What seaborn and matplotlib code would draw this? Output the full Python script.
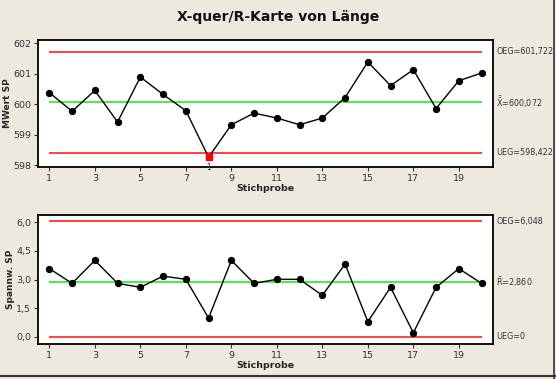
import numpy as np
import pandas as pd
import seaborn as sns
import matplotlib.pyplot as plt

# data
stichprobe = list(range(1, 21))
mittelwert = [600.38, 599.77, 600.45, 599.42, 600.89, 600.32, 599.79, 598.27, 599.33, 599.71,
              599.55, 599.33, 599.55, 600.22, 601.38, 600.61, 601.13, 599.86, 600.77, 601.02]
spannweite = [3.57, 2.80, 4.00, 2.80, 2.59, 3.18, 3.01, 0.98, 4.00, 2.80,
              3.01, 3.01, 2.17, 3.81, 0.79, 2.59, 0.21, 2.59, 3.57, 2.80]
x_oeg, x_mid, x_ueg = 601.722, 600.072, 598.422
r_oeg, r_mid, r_ueg = 6.048, 2.860, 0.0
x_ticks = [1, 3, 5, 7, 9, 11, 13, 15, 17, 19]
x_yticks = [598, 599, 600, 601, 602]
r_yticks = [0.0, 1.5, 3.0, 4.5, 6.0]
x_flagged = [8]

df = pd.DataFrame({'Stichprobe': stichprobe, 'MWert': mittelwert, 'Spannw': spannweite})

sns.set_style('white')
plt.rcParams['font.family'] = ['DejaVu Sans']
plt.rcParams['mathtext.default'] = 'regular'

bg = '#EDE9DF'
fig = plt.figure(figsize=(5.56, 3.79), dpi=100, facecolor=bg)
ax1 = fig.add_axes([0.0683, 0.5594, 0.8183, 0.3351])
ax2 = fig.add_axes([0.0683, 0.0923, 0.8183, 0.3404])

fs = 6.8


def draw_chart(ax, col, oeg, mid, ueg, yticks, ylim, ylabel, fmt):
    ax.hlines([oeg, ueg], 1, 20, color='#FF2020', lw=1.2, zorder=1)
    ax.hlines(mid, 1, 20, color='#22EE22', lw=1.2, zorder=1)
    sns.lineplot(data=df, x='Stichprobe', y=col, ax=ax, color='black', lw=1.0,
                 marker='o', markersize=4.5, markeredgecolor='black', zorder=3)
    ax.set_xlim(0.5, 20.5)
    ax.set_ylim(*ylim)
    ax.set_xticks(x_ticks)
    ax.set_yticks(yticks)
    ax.set_yticklabels([fmt(v) for v in yticks])
    ax.tick_params(axis='both', labelsize=fs, length=3, width=0.8, direction='out',
                   bottom=True, left=True, colors='#333333', pad=2)
    ax.set_xlabel('Stichprobe', fontsize=fs, fontweight='bold', labelpad=1)
    ax.set_ylabel(ylabel, fontsize=6.5, fontweight='bold', labelpad=1)
    for s in ax.spines.values():
        s.set_linewidth(1.3)
        s.set_color('black')
    ax.set_facecolor('white')


draw_chart(ax1, 'MWert', x_oeg, x_mid, x_ueg, x_yticks, (597.95, 602.1), 'MWert SP',
           lambda v: f'{v:.0f}')
draw_chart(ax2, 'Spannw', r_oeg, r_mid, r_ueg, r_yticks, (-0.38, 6.38), 'Spannw. SP',
           lambda v: f'{v:.1f}'.replace('.', ','))

# flagged point
flag = df[df['Stichprobe'].isin(x_flagged)]
ax1.scatter(flag['Stichprobe'], flag['MWert'], marker='s', s=22, color='red', zorder=4)
for _, r in flag.iterrows():
    ax1.annotate('1', (r['Stichprobe'], r['MWert']), xytext=(0, -4), textcoords='offset points',
                 ha='center', va='top', fontsize=5.5, color='#333333')


def right_label(ax, y, text):
    ax.annotate(text, xy=(1.0, y), xycoords=('axes fraction', 'data'), xytext=(2.5, 0),
                textcoords='offset points', ha='left', va='center', fontsize=5.8,
                color='#333333', annotation_clip=False)


right_label(ax1, x_oeg, f'OEG={x_oeg:.3f}'.replace('.', ','))
right_label(ax1, x_mid, r'$\bar{\bar{X}}$' + f'={x_mid:.3f}'.replace('.', ','))
right_label(ax1, x_ueg, f'UEG={x_ueg:.3f}'.replace('.', ','))
right_label(ax2, r_oeg, f'OEG={r_oeg:.3f}'.replace('.', ','))
right_label(ax2, r_mid, r'$\bar{R}$' + f'={r_mid:.3f}'.replace('.', ','))
right_label(ax2, r_ueg, 'UEG=0')

fig.text(0.5, 0.955, 'X-quer/R-Karte von Länge', ha='center', va='center',
         fontsize=10, fontweight='bold', color='#111111')

# window borders
fig.add_artist(plt.Line2D([0, 1], [0.008, 0.008], color='#333333', lw=1.5))
fig.add_artist(plt.Line2D([0.997, 0.997], [0, 1], color='#333333', lw=1.2))

fig.savefig('out.png', dpi=100, facecolor=bg)
